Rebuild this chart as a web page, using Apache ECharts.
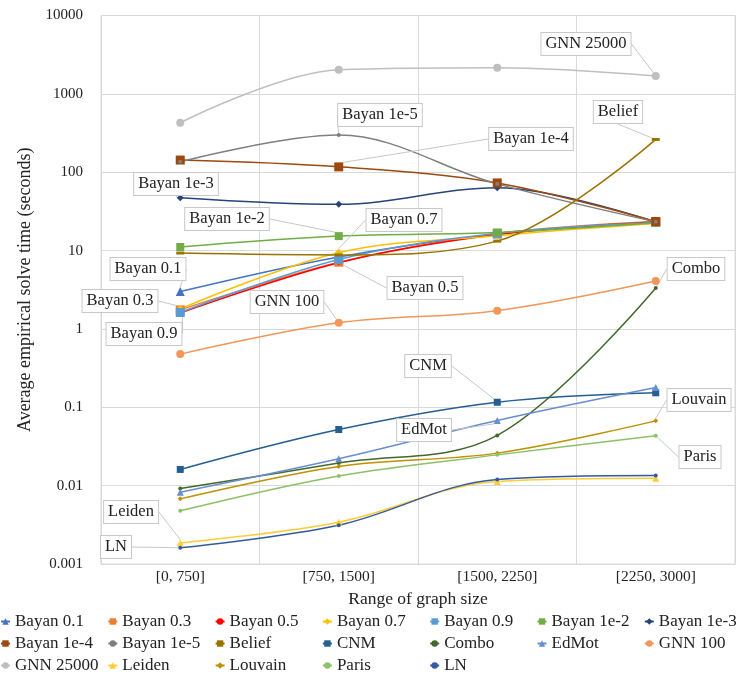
<!DOCTYPE html>
<html>
<head>
<meta charset="utf-8">
<script src="https://cdn.jsdelivr.net/npm/echarts@6/dist/echarts.min.js"></script>
<style>
  html, body { margin: 0; padding: 0; background: #fff; }
  #chart { width: 738px; height: 678px; }
</style>
</head>
<body>
<div id="chart"></div>
<script>
// Graph size buckets (x axis)
const categories = ['[0, 750]', '[750, 1500]', '[1500, 2250]', '[2250, 3000]'];

// Average empirical solve time (seconds) per method
const bayan01   = [3.0, 8.3, 16.3, 23.3];
const bayan03   = [1.75, 7.1, 16.5, 23.5];
const bayan05   = [1.6, 7.0, 16.0, 23.2];
const bayan07   = [1.8, 9.4, 15.5, 22.2];
const bayan09   = [1.62, 7.7, 16.6, 22.8];
const bayan1e2  = [11.1, 15.3, 17.0, 22.6];
const bayan1e3  = [47.2, 38.9, 63.4, 23.0];
const bayan1e4  = [143, 117, 73, 23.5];
const bayan1e5  = [136, 298, 71, 23.3];
const belief    = [9.3, 8.8, 13.2, 262];
const cnm       = [0.0161, 0.052, 0.116, 0.153];
const combo     = [0.0092, 0.0194, 0.0437, 3.32];
const edmot     = [0.00826, 0.022, 0.068, 0.179];
const gnn100    = [0.477, 1.2, 1.71, 4.08];
const gnn25000  = [428, 2032, 2157, 1690];
const leiden    = [0.00185, 0.00342, 0.0113, 0.0124];
const louvain   = [0.00678, 0.0176, 0.026, 0.0671];
const paris     = [0.00477, 0.0133, 0.0247, 0.0433];
const ln        = [0.00161, 0.00313, 0.012, 0.0135];

// Y tick values (log scale)
const yTicks = [0.001, 0.01, 0.1, 1, 10, 100, 1000, 10000];

const FONT = '"Liberation Serif", "DejaVu Serif", serif';
const TEXT = '#222';

// Series appearance: [name, data, color, symbol, symbolSize, calloutIndex, calloutCenter]
const seriesDefs = [
  ['Bayan 0.1',  bayan01,  '#4472C4', 'triangle', 9,      0, [148, 269]],
  ['Bayan 0.3',  bayan03,  '#ED7D31', 'rect',     9,      0, [120, 301]],
  ['Bayan 0.5',  bayan05,  '#FF0000', 'circle',   4,      1, [425, 288]],
  ['Bayan 0.7',  bayan07,  '#FFC000', 'diamond',  8,      1, [404, 220]],
  ['Bayan 0.9',  bayan09,  '#5B9BD5', 'rect',     9,      0, [144, 334]],
  ['Bayan 1e-2', bayan1e2, '#70AD47', 'rect',     8,      1, [227, 219]],
  ['Bayan 1e-3', bayan1e3, '#264478', 'diamond',  7,      0, [176, 184]],
  ['Bayan 1e-4', bayan1e4, '#9E480E', 'rect',     9,      1, [531, 139]],
  ['Bayan 1e-5', bayan1e5, '#7F7F7F', 'circle',   4,      1, [380, 115]],
  ['Belief',     belief,   '#997300', 'rect',     [8, 3], 3, [618, 112]],
  ['CNM',        cnm,      '#255E91', 'rect',     7,      2, [428, 366]],
  ['Combo',      combo,    '#43682B', 'circle',   4,      3, [696, 269]],
  ['EdMot',      edmot,    '#698ED0', 'triangle', 7,      2, [424, 430]],
  ['GNN 100',    gnn100,   '#F1975A', 'circle',   8,      1, [287, 302]],
  ['GNN 25000',  gnn25000, '#BFBFBF', 'circle',   8,      3, [586, 44]],
  ['Leiden',     leiden,   '#FFCD33', 'triangle', 7,      0, [131, 512]],
  ['Louvain',    louvain,  '#BF9000', 'diamond',  5,      3, [699, 400]],
  ['Paris',      paris,    '#8CC168', 'circle',   4,      3, [700, 457]],
  ['LN',         ln,       '#335AA1', 'circle',   4,      0, [116, 547]]
];

const series = seriesDefs.map(([name, values, color, symbol, size, ci, center]) => ({
  name: name,
  type: 'line',
  smooth: 0.35,
  data: values.map((v, i) => i === ci
    ? { value: v, label: { show: true }, labelLine: { show: true } }
    : v),
  symbol: symbol,
  symbolSize: size,
  showAllSymbol: true,
  itemStyle: { color: color },
  lineStyle: { color: color, width: 1.5 },
  label: {
    show: false,
    formatter: '{a}',
    fontFamily: FONT,
    fontSize: 16.5,
    color: TEXT,
    backgroundColor: '#fff',
    borderColor: '#c8c8c8',
    borderWidth: 1,
    padding: [3, 4, 2, 4]
  },
  labelLine: {
    show: false,
    lineStyle: { color: '#c8c8c8', width: 1 }
  },
  labelLayout: function () {
    return { x: center[0], y: center[1], align: 'center', verticalAlign: 'middle' };
  },
  emphasis: { disabled: true },
  animation: false
}));

// Legend laid out as a fixed 7-column table, one legend component per entry
const LEGEND_COLS = 7, COL_W = 107.3, ROW_H = 22, LEGEND_TOP = 613;
const legends = seriesDefs.map((d, i) => ({
  data: [d[0]],
  left: (i % LEGEND_COLS) * COL_W,
  top: LEGEND_TOP + Math.floor(i / LEGEND_COLS) * ROW_H,
  orient: 'horizontal',
  itemWidth: 9,
  itemHeight: 8,
  padding: 0,
  selectedMode: false,
  textStyle: { fontFamily: FONT, fontSize: 17, color: TEXT }
}));

const chart = echarts.init(document.getElementById('chart'), null, { renderer: 'canvas' });
chart.setOption({
  animation: false,
  backgroundColor: '#fff',
  grid: { left: 101, right: 3, top: 15.5, bottom: 114, show: true, borderColor: '#d9d9d9', borderWidth: 1 },
  legend: legends,
  xAxis: {
    type: 'category',
    data: categories,
    boundaryGap: true,
    name: 'Range of graph size',
    nameLocation: 'middle',
    nameGap: 26,
    nameTextStyle: { fontFamily: FONT, fontSize: 17.5, color: TEXT },
    axisLine: { lineStyle: { color: '#d9d9d9' } },
    axisTick: { show: false },
    axisLabel: { fontFamily: FONT, fontSize: 15.5, color: TEXT, margin: 5 },
    splitLine: { show: true, lineStyle: { color: '#d9d9d9' } }
  },
  yAxis: {
    type: 'log',
    logBase: 10,
    min: yTicks[0],
    max: yTicks[yTicks.length - 1],
    name: 'Average empirical solve time (seconds)',
    nameLocation: 'middle',
    nameGap: 66,
    nameTextStyle: { fontFamily: FONT, fontSize: 18, color: TEXT },
    axisLine: { show: true, lineStyle: { color: '#d9d9d9' } },
    axisTick: { show: false },
    axisLabel: {
      fontFamily: FONT, fontSize: 15, color: TEXT, margin: 18,
      formatter: v => {
        const t = yTicks.find(x => Math.abs(Math.log10(x) - Math.log10(v)) < 1e-6);
        return t === undefined ? '' : String(t);
      }
    },
    splitLine: { show: true, lineStyle: { color: '#d9d9d9' } }
  },
  series: series
});
</script>
</body>
</html>
